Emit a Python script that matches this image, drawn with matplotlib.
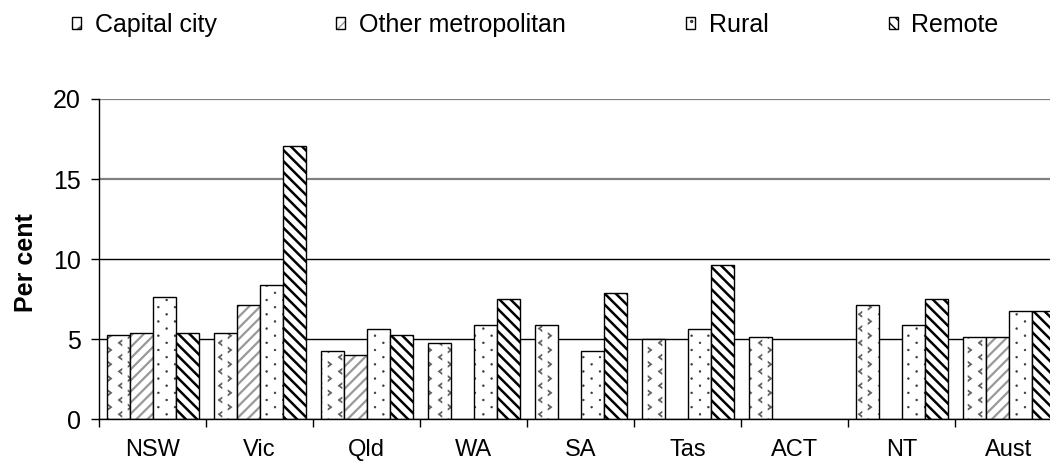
import numpy as np
import matplotlib
matplotlib.use("Agg")
import matplotlib.pyplot as plt
import matplotlib.hatch as mhatch
from matplotlib.path import Path

plt.rcParams['font.family'] = ['Liberation Sans', 'DejaVu Sans']

states = ['NSW', 'Vic', 'Qld', 'WA', 'SA', 'Tas', 'ACT', 'NT', 'Aust']
series = ['Capital city', 'Other metropolitan', 'Rural', 'Remote']
nan = np.nan
capital = [5.25, 5.37, 4.25, 4.75, 5.87, 5.0, 5.12, 7.12, 5.12]
other_metro = [5.37, 7.12, 4.0, nan, nan, nan, nan, nan, 5.12]
rural = [7.62, 8.37, 5.62, 5.87, 4.25, 5.62, nan, 5.87, 6.75]
remote = [5.37, 17.04, 5.25, 7.5, 7.87, 9.62, nan, 7.5, 6.75]
yticks = [0, 5, 10, 15, 20]


# --- custom hatch patterns (hatch unit square = 100 px at dpi 100) ---
def staggered(ncol, nrow):
    pts = []
    for j in range(nrow + 1):
        for i in range(ncol + 1):
            pts.append((i / ncol, j / nrow, 0))
    for j in range(nrow):
        for i in range(ncol):
            pts.append(((i + 0.5) / ncol, (j + 0.5) / nrow, 1))
    return pts


CHEV_L = np.array([(2, 3), (-2, 0), (2, -3), (2, -1.5), (-0.2, 0), (2, 1.5), (2, 3)]) / 100.0
CHEV_R = CHEV_L * [-1, 1]
_t = np.linspace(0, 2 * np.pi, 9)
DOT = np.column_stack([np.cos(_t), np.sin(_t)]) * 1.0 / 100.0


class ShapeLattice(mhatch.HatchPatternBase):
    char = '*'
    ncol, nrow = 5, 7

    def __init__(self, hatch, density):
        k = hatch.count(self.char)
        self.points = staggered(self.ncol, self.nrow) if k else []
        self.num_vertices = sum(len(self.shape(t)) for _, _, t in self.points)

    def shape(self, kind):
        return CHEV_L if kind == 0 else CHEV_R

    def set_vertices_and_codes(self, vertices, codes):
        cur = 0
        for x, y, kind in self.points:
            s = self.shape(kind)
            n = len(s)
            vertices[cur:cur + n] = s + [x, y]
            codes[cur] = Path.MOVETO
            codes[cur + 1:cur + n - 1] = Path.LINETO
            codes[cur + n - 1] = Path.CLOSEPOLY
            cur += n


class DotLattice(ShapeLattice):
    char = '.'
    ncol, nrow = 6, 7

    def shape(self, kind):
        return DOT


mhatch._hatch_types[:] = [h for h in mhatch._hatch_types
                          if h not in (mhatch.Stars, mhatch.SmallFilledCircles)]
mhatch._hatch_types += [ShapeLattice, DotLattice]

styles = [
    dict(hatch='*', hatchcolor='#5a5a5a', hlw=0.4),
    dict(hatch='///', hatchcolor='#999999', hlw=1.6),
    dict(hatch='.', hatchcolor='#333333', hlw=0.3),
    dict(hatch='\\\\\\', hatchcolor='black', hlw=1.8),
]
data = [capital, other_metro, rural, remote]

fig = plt.figure(figsize=(10.5, 4.66), dpi=100)
ax = fig.add_axes([99 / 1050, 1 - 419.3 / 466, 963 / 1050, 320.3 / 466])

x = np.arange(len(states))
width = 0.215
offset = 0.075
handles = []
for j, (vals, st) in enumerate(zip(data, styles)):
    pos = x + offset + j * width
    with plt.rc_context({'hatch.linewidth': st['hlw']}):
        hb = ax.bar(pos, vals, width, align='edge', color='white',
                    edgecolor=st['hatchcolor'], hatch=st['hatch'], linewidth=0)
    for p in hb:
        if hasattr(p, 'set_hatch_linewidth'):
            p.set_hatch_linewidth(st['hlw'])
    ob = ax.bar(pos, vals, width, align='edge', fill=False,
                edgecolor='black', linewidth=1.0)
    handles.append((hb, ob))

ax.set_xlim(0, len(states))
ax.set_ylim(0, 20)
ax.set_yticks(yticks)
ax.set_xticks(np.arange(len(states) + 1))
ax.set_xticklabels([])
ax.set_xticks(x + 0.5, minor=True)
ax.set_xticklabels(states, minor=True)
ax.tick_params(axis='x', which='major', direction='out', length=6, width=1)
ax.tick_params(axis='x', which='minor', length=0, pad=14, labelsize=17)
ax.tick_params(axis='y', direction='out', length=6, width=1, pad=7, labelsize=18)

ax.set_axisbelow(True)
ax.grid(axis='y', color='black', linewidth=1)
for val, gl in zip(ax.get_yticks(), ax.get_ygridlines()):
    if val >= 15:
        gl.set_color('#808080')
        gl.set_linewidth(1.6)
for side in ['top', 'right']:
    ax.spines[side].set_visible(False)
ax.spines['left'].set_linewidth(1)
ax.spines['bottom'].set_linewidth(1)

ax.set_ylabel('Per cent', fontsize=18, fontweight='bold')
ax.yaxis.set_label_coords(-0.063, 0.49)

fig.legend(handles, series, loc='center left', bbox_to_anchor=(0.047, 0.946), ncol=4,
           frameon=False, fontsize=18, handlelength=0.36, handleheight=0.36,
           handletextpad=0.55, columnspacing=4.8)

fig.savefig('out.png', dpi=100)
